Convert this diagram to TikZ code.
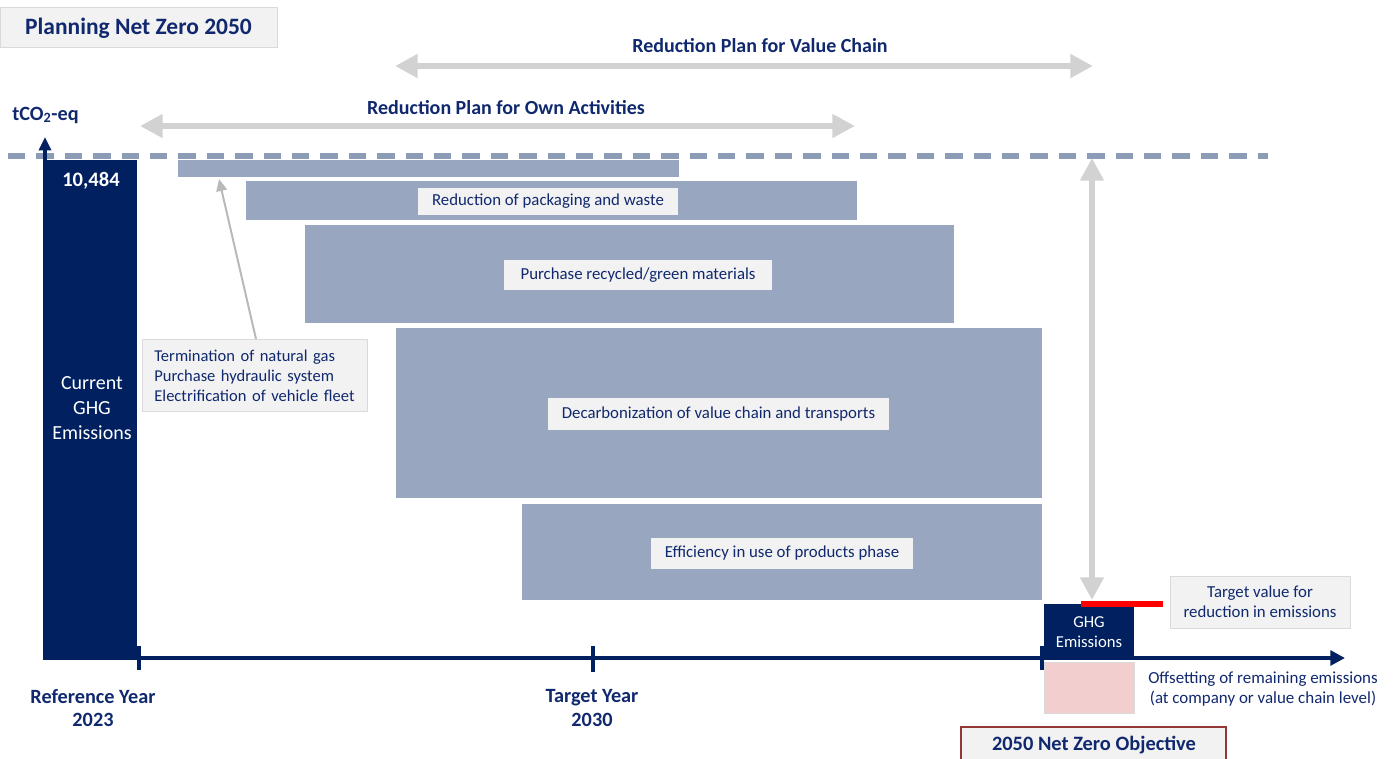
\documentclass[tikz,border=0pt]{standalone}
\usepackage{fontspec}
\setmainfont{Carlito}
\usetikzlibrary{arrows.meta,fit}
\definecolor{navy}{RGB}{0,32,96}
\definecolor{navytxt}{RGB}{16,40,110}
\definecolor{barc}{RGB}{153,166,191}
\definecolor{dashc}{RGB}{140,155,182}
\definecolor{arrg}{RGB}{210,210,210}
\definecolor{thing}{RGB}{185,185,185}
\definecolor{lblf}{RGB}{242,242,242}
\definecolor{lbld}{RGB}{218,218,218}
\definecolor{pinkc}{RGB}{242,206,206}
\definecolor{objred}{RGB}{150,55,55}
\tikzset{
  bar/.style={fill=barc,inner sep=0pt},
  navybox/.style={fill=navy,inner sep=0pt},
  lbl/.style={fill=lblf,text=navytxt,font=\fontsize{12.6}{15}\selectfont,inner sep=0pt,align=center},
  head/.style={text=navytxt,font=\bfseries\fontsize{15}{18}\selectfont},
  bigarrow/.style={draw=arrg,line width=4.5pt,{Triangle[length=17pt,width=17pt]}-{Triangle[length=17pt,width=17pt]}},
  axis/.style={draw=navy,line width=3pt},
  tick/.style={draw=navy,line width=2.4pt},
}
\begin{document}
\begin{tikzpicture}[x=0.75pt,y=-0.75pt]
\useasboundingbox (0,0) rectangle (1395,758);

% title
\node[fill=lblf,draw=lbld,line width=0.6pt,minimum width=207.75pt,minimum height=30pt,inner sep=0pt,anchor=north west] (title) at (0,7) {};
\node[text=navytxt,font=\bfseries\fontsize{17.6}{20}\selectfont] (titletxt) at (138.5,28) {Planning Net Zero 2050};

% plan arrows
\node[head] (vclabel) at (760,46) {Reduction Plan for Value Chain};
\coordinate (vcL) at (395,66);
\coordinate (vcR) at (1093,66);
\draw[bigarrow] (vcL) -- (vcR);
\node[head] (oalabel) at (506,108) {Reduction Plan for Own Activities};
\coordinate (oaL) at (140,126);
\coordinate (oaR) at (855,126);
\draw[bigarrow] (oaL) -- (oaR);

% dashed reference line
\coordinate (dashL) at (8,156);
\coordinate (dashR) at (1268,156);
\draw[draw=dashc,line width=4pt,dash pattern=on 13pt off 8.3pt] (dashL) -- (dashR);

% y axis
\node[text=navytxt,font=\bfseries\fontsize{15.2}{18}\selectfont,anchor=west,inner sep=0pt] (unit) at (12,115) {tCO\textsubscript{2}-eq};
\coordinate (yB) at (45,660);
\coordinate (yT) at (45,137);
\draw[axis,-{Triangle[length=10pt,width=9pt]}] (yB) -- (yT);

% current emissions bar
\node[navybox,fit={(45,160) (137,660)}] (cur) {};
\node[text=white,font=\bfseries\fontsize{15.4}{18}\selectfont] (val) at (91,181) {10,484};
\node[text=white,font=\fontsize{15}{18.5}\selectfont,align=center] (curtxt) at (92,408) {Current\\GHG\\Emissions};

% reduction bars
\node[bar,fit={(178,160) (679,177)}] (b1) {};
\node[bar,fit={(246,181) (857,220)}] (b2) {};
\node[bar,fit={(305,225) (954,323)}] (b3) {};
\node[bar,fit={(396,328) (1042,498)}] (b4) {};
\node[bar,fit={(522,504) (1042,600)}] (b5) {};

\node[lbl,minimum width=195pt,minimum height=20.25pt] (l2) at (548,201) {Reduction of packaging and waste};
\node[lbl,minimum width=201pt,minimum height=22.5pt] (l3) at (638,275) {Purchase recycled/green materials};
\node[lbl,minimum width=255.75pt,minimum height=24pt] (l4) at (718.5,414) {Decarbonization of value chain and transports};
\node[lbl,minimum width=196.5pt,minimum height=23.25pt] (l5) at (782,553) {Efficiency in use of products phase};

% annotation
\node[fill=lblf,draw=lbld,line width=0.6pt,anchor=north west,minimum width=168.75pt,minimum height=54pt,inner xsep=9pt,inner ysep=0pt,text width=150.75pt,align=left,text=navytxt,font=\fontsize{12.4}{15}\selectfont] (ann) at (142,339) {Termination of natural gas\\Purchase hydraulic system\\Electrification of vehicle fleet};
\coordinate (annT) at (256,339);
\coordinate (b1pt) at (219,179);
\draw[draw=thing,line width=1.5pt,-{Triangle[length=9pt,width=8pt]}] (annT) -- (b1pt);

% x axis
\coordinate (xL) at (137,658);
\coordinate (xR) at (1345,658);
\draw[axis,-{Triangle[length=11pt,width=11pt]}] (xL) -- (xR);
\coordinate (t1a) at (139,646); \coordinate (t1b) at (139,670);
\coordinate (t2a) at (593,646); \coordinate (t2b) at (593,672);
\coordinate (t3a) at (1042,646); \coordinate (t3b) at (1042,670);
\draw[tick] (t1a) -- (t1b);
\draw[tick] (t2a) -- (t2b);
\draw[tick] (t3a) -- (t3b);
\node[text=navytxt,font=\bfseries\fontsize{15.2}{17.5}\selectfont,align=center] (ref) at (93,708) {Reference Year\\2023};
\node[text=navytxt,font=\bfseries\fontsize{15.2}{17.5}\selectfont,align=center] (tgt) at (592,708) {Target Year\\2030};

% 2050 section
\node[navybox,fit={(1044,604) (1134,656)}] (ghg) {};
\node[text=white,font=\fontsize{12.5}{15}\selectfont,align=center] (ghgtxt) at (1089,632) {GHG\\Emissions};
\coordinate (redL) at (1081,604);
\coordinate (redR) at (1163,604);
\draw[draw=red,line width=3.8pt] (redL) -- (redR);
\coordinate (vT) at (1092,158);
\coordinate (vB) at (1092,600);
\draw[bigarrow] (vT) -- (vB);
\node[lbl,fill=lblf,draw=lbld,line width=0.4pt,minimum width=135pt,minimum height=39pt,font=\fontsize{12.6}{15}\selectfont] (tv) at (1260,602) {Target value for\\reduction in emissions};
\node[fill=pinkc,draw=lbld,line width=0.4pt,inner sep=0pt,fit={(1044,662) (1134,713)}] (off) {};
\node[text=navytxt,font=\fontsize{12.7}{15}\selectfont,align=center] (offtxt) at (1263,689) {Offsetting of remaining emissions\\(at company or value chain level)};
\node[fill=lblf,draw=objred,line width=1.5pt,inner sep=0pt,fit={(961,727) (1226,775)}] (obj) {};
\node[text=navytxt,font=\bfseries\fontsize{15.3}{18}\selectfont] (objtxt) at (1094,745) {2050 Net Zero Objective};
\end{tikzpicture}
\end{document}
